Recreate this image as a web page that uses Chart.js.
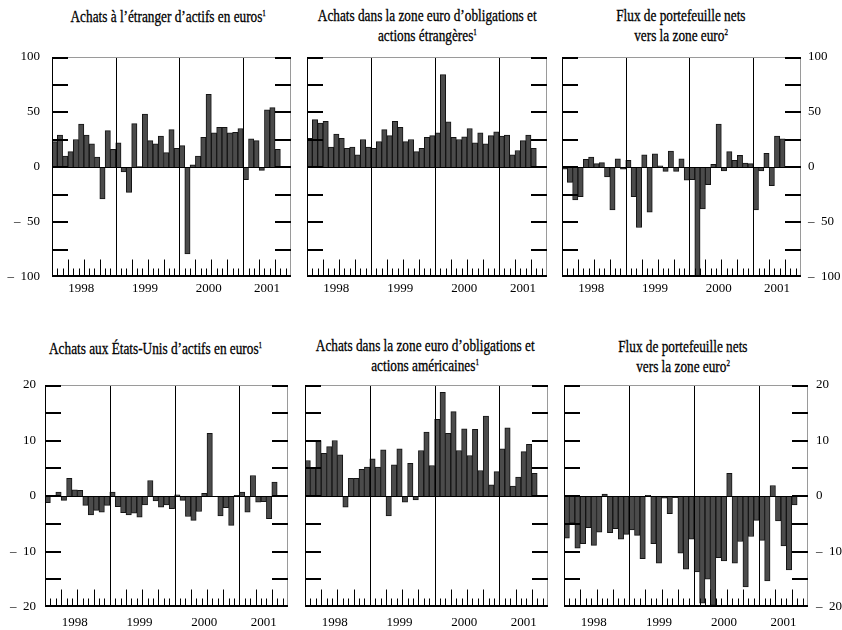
<!DOCTYPE html>
<html>
<head>
<meta charset="utf-8">
<script src="https://cdn.jsdelivr.net/npm/chart.js@4"></script>
<style>
  body { margin: 0; background: #fff; }
  #page { position: relative; width: 842px; height: 630px; overflow: hidden; }
  .box { position: absolute; }
  .title {
    position: absolute; width: 320px; text-align: center;
    font-family: "Liberation Serif", serif; font-size: 17px; line-height: 20px; color: #000;
    -webkit-text-stroke: 0.3px #000;
  }
  .title span { display: inline-block; transform: scaleX(0.78); transform-origin: center; white-space: nowrap; }
  .title sup { font-size: 9px; vertical-align: 6px; line-height: 0; }
</style>
</head>
<body>
<div id="page"></div>
<script>
// Months shown on each panel: Jan 1998 to Sep 2001, data up to Jul 2001
const years = ['1998', '1999', '2000', '2001'];
const monthsPerYear = [12, 12, 12, 9];

// Top row, EUR billions
const achatsEtrangerEuros = [
  23, 29, 10, 14, 25, 39, 29, 21, 9, -29, 33, 16,
  22, -4.5, -23, 39.5, 0.3, 48, 24, 21, 28, 13, 34, 17,
  19.5, -79, 2, 10, 27, 66, 31, 36, 36, 31, 31.5, 35,
  -11.5, 25.5, 24, -3, 52, 54, 16
];
const achatsZoneEuroEtrangeres = [
  26, 43, 40, 41.5, 18, 30, 26, 17, 18, 11, 25, 18,
  17, 23, 34, 28.5, 41.5, 36, 23, 25, 14, 17, 27, 28.5,
  31, 84, 41, 27, 25, 27.5, 35, 22, 31, 21, 28.5, 32,
  28, 29, 11, 15, 24, 29, 17
];
const fluxNetsZoneEuro = [
  -2, -14, -30, -27, 7, 9, 3, 4, -9, -39, 7.5, -2,
  6, -27, -55, 11, -41, 12, 1, -4, 14.5, -4, 7.5, -12,
  -11.5, -100, -38, -16, 2.5, 39, -3.5, 14, 6, 10.5, 3.5, 3,
  -39, -3.5, 12.5, -17, 28, 25.5, 0.5
];

// Bottom row, EUR billions
const achatsEtatsUnisEuros = [
  -1.2, 0, 0.7, -0.8, 3.2, 1.1, 1.0, -1.7, -3.4, -2.6, -2.9, -1.7,
  0.7, -1.9, -3.0, -3.4, -3.1, -3.8, -1.6, 2.8, -0.9, -2.0, -1.6, -2.3,
  0.2, -0.8, -3.7, -4.4, -2.8, 0.5, 11.3, 0, -3.6, -2.1, -5.3, 0.1,
  0.7, -2.9, 3.7, -1.1, -1.0, -4.1, 2.5
];
const achatsZoneEuroAmericaines = [
  6.4, 5.0, 10.0, 7.7, 8.9, 10.0, 7.4, -2.0, 3.2, 3.2, 4.8, 5.2,
  6.7, 5.2, 8.3, -3.6, 5.6, 8.5, -1.1, 5.9, -0.7, 8.2, 11.5, 5.5,
  13.8, 18.7, 11.3, 15.2, 8.2, 12.1, 7.3, 12.0, 4.6, 14.4, 2.0, 4.4,
  8.5, 12.3, 1.8, 3.4, 8.0, 9.3, 4.1
];
const fluxNetsEtatsUnis = [
  -7.6, -4.9, -9.4, -8.6, -5.7, -8.9, -6.5, 0.35, -6.6, -5.9, -7.8, -6.9,
  -6.1, -7.1, -11.3, 0.1, -8.6, -12.1, -0.4, -3.2, -0.3, -10.3, -13.2, -7.8,
  -13.7, -19.3, -15.0, -19.7, -11.1, -11.7, 4.1, -12.1, -8.2, -16.4, -7.3, -4.4,
  -8.0, -15.3, 1.9, -4.5, -9.0, -13.3, -1.6
];

// build month categories and the index that carries each year label
const monthLabels = [];
const yearLabelAt = {};
years.forEach((yr, k) => {
  const start = monthLabels.length;
  for (let m = 1; m <= monthsPerYear[k]; m++) monthLabels.push(yr + '-' + String(m).padStart(2, '0'));
  yearLabelAt[start + Math.floor((monthsPerYear[k] - 1) / 2)] = yr;
});

const page = document.getElementById('page');

// titles (HTML text)
const titles = [
  { x: 168, top: 7,   lines: ['Achats à l’étranger d’actifs en euros<sup>1</sup>'] },
  { x: 427, top: 6,   lines: ['Achats dans la zone euro d’obligations et', 'actions étrangères<sup>1</sup>'] },
  { x: 681, top: 6,   lines: ['Flux de portefeuille nets', 'vers la zone euro<sup>2</sup>'] },
  { x: 156, top: 339, lines: ['Achats aux États-Unis d’actifs en euros<sup>1</sup>'] },
  { x: 425, top: 336, lines: ['Achats dans la zone euro d’obligations et', 'actions américaines<sup>1</sup>'] },
  { x: 683, top: 337, lines: ['Flux de portefeuille nets', 'vers la zone euro<sup>2</sup>'] }
];
titles.forEach(t => {
  const d = document.createElement('div');
  d.className = 'title';
  d.style.left = (t.x - 160) + 'px';
  d.style.top = t.top + 'px';
  d.innerHTML = t.lines.map(l => '<span>' + l + '</span>').join('<br>');
  page.appendChild(d);
});

// frame, zero line, inner ticks and year separators
const framePlugin = {
  id: 'frame',
  afterDatasetsDraw(chart, args, opts) {
    const { ctx, chartArea: a, scales: { x, y } } = chart;
    const L = a.left + 0.5, R = a.right - 0.5, T = a.top + 0.5, B = a.bottom - 0.5;
    ctx.save();
    ctx.lineCap = 'butt';

    // zero line
    ctx.strokeStyle = '#000';
    ctx.lineWidth = 1;
    const y0 = Math.round(y.getPixelForValue(0)) + 0.5;
    ctx.beginPath(); ctx.moveTo(L, y0); ctx.lineTo(R, y0); ctx.stroke();

    // month ticks, quarter ticks, year lines
    const n = chart.data.labels.length;
    for (let i = 1; i < n; i++) {
      const px = Math.round((x.getPixelForValue(i - 1) + x.getPixelForValue(i)) / 2) + 0.5;
      let top;
      if (i % 12 === 0) top = T;
      else if (i % 3 === 0) top = B - 17;
      else top = B - 8;
      ctx.beginPath(); ctx.moveTo(px, B); ctx.lineTo(px, top); ctx.stroke();
    }

    // frame: top and right light, left and bottom dark
    ctx.strokeStyle = '#9a9a9a';
    ctx.beginPath(); ctx.moveTo(L, T); ctx.lineTo(R, T); ctx.lineTo(R, B); ctx.stroke();
    ctx.strokeStyle = '#000';
    ctx.beginPath(); ctx.moveTo(L, T); ctx.lineTo(L, B); ctx.stroke();
    ctx.lineWidth = 2;
    ctx.beginPath(); ctx.moveTo(a.left, a.bottom - 1); ctx.lineTo(a.right, a.bottom - 1); ctx.stroke();

    // inner value ticks on both sides
    ctx.lineWidth = 2;
    for (let v = y.min; v <= y.max + 1e-9; v += opts.minor) {
      const py = Math.round(y.getPixelForValue(v));
      const yy = v === y.max ? py + 1 : (v === y.min ? py - 1 : py);
      ctx.beginPath(); ctx.moveTo(a.left, yy); ctx.lineTo(a.left + 16, yy); ctx.stroke();
      ctx.beginPath(); ctx.moveTo(a.right - 16, yy); ctx.lineTo(a.right, yy); ctx.stroke();
    }
    ctx.restore();
  }
};

// negative labels: en dash, then a double space before the number
const fmt = v => (v < 0 ? '\u2013  ' + Math.abs(v) : String(v));

function makePanel(p) {
  const div = document.createElement('div');
  div.className = 'box';
  div.style.left = p.left + 'px';
  div.style.top = p.top + 'px';
  const cv = document.createElement('canvas');
  cv.width = p.width; cv.height = p.height;
  cv.style.width = p.width + 'px'; cv.style.height = p.height + 'px';
  div.appendChild(cv);
  page.appendChild(div);

  // gaps between labels and plot come from tickLength (hidden grid), not ticks.padding,
  // so the layout does not push the chart area down
  new Chart(cv.getContext('2d'), {
    type: 'bar',
    data: {
      labels: monthLabels,
      datasets: [{
        data: p.values,
        backgroundColor: '#4b4b4b',
        borderColor: '#141414',
        borderWidth: 1,
        barPercentage: 1,
        categoryPercentage: 1
      }]
    },
    options: {
      responsive: false,
      animation: false,
      devicePixelRatio: 1,
      layout: { padding: p.padding },
      plugins: { legend: { display: false }, tooltip: { enabled: false }, frame: { minor: p.minor } },
      scales: {
        x: {
          type: 'category',
          grid: { display: false, drawTicks: true, tickLength: p.xPad, color: 'rgba(0,0,0,0)' },
          border: { display: false },
          afterFit: s => { s.height = p.xHeight; },
          ticks: {
            autoSkip: false, maxRotation: 0, minRotation: 0,
            padding: 0, color: '#000',
            font: { family: 'Liberation Serif', size: 13 },
            callback: (val, idx) => yearLabelAt[idx] || ''
          }
        },
        y: {
          display: p.side !== 'none',
          position: p.side === 'right' ? 'right' : 'left',
          min: p.min, max: p.max,
          grid: { display: false, drawTicks: true, tickLength: p.yPad, color: 'rgba(0,0,0,0)' },
          border: { display: false },
          afterFit: s => { s.width = p.yWidth; },
          ticks: {
            stepSize: p.step, padding: 0, color: '#000',
            font: { family: 'Liberation Serif', size: 13 },
            callback: v => fmt(v)
          }
        }
      }
    },
    plugins: [framePlugin]
  });
}

// top row
makePanel({ left: 0, top: 45, width: 300, height: 260, values: achatsEtrangerEuros,
  min: -100, max: 100, step: 50, minor: 25, side: 'left', yWidth: 52, yPad: 12,
  xHeight: 24, xPad: 4, padding: { left: 0, right: 9, top: 12, bottom: 4 } });
makePanel({ left: 300, top: 45, width: 255, height: 260, values: achatsZoneEuroEtrangeres,
  min: -100, max: 100, step: 50, minor: 25, side: 'none', yWidth: 0, yPad: 0,
  xHeight: 24, xPad: 4, padding: { left: 7, right: 8, top: 12, bottom: 4 } });
makePanel({ left: 555, top: 45, width: 287, height: 260, values: fluxNetsZoneEuro,
  min: -100, max: 100, step: 50, minor: 25, side: 'right', yWidth: 41, yPad: 7,
  xHeight: 24, xPad: 4, padding: { left: 7, right: 0, top: 12, bottom: 4 } });

// bottom row
makePanel({ left: 0, top: 373, width: 300, height: 257, values: achatsEtatsUnisEuros,
  min: -20, max: 20, step: 10, minor: 5, side: 'left', yWidth: 45, yPad: 9,
  xHeight: 22, xPad: 8, padding: { left: 0, right: 12, top: 12, bottom: 1 } });
makePanel({ left: 300, top: 373, width: 255, height: 257, values: achatsZoneEuroAmericaines,
  min: -20, max: 20, step: 10, minor: 5, side: 'none', yWidth: 0, yPad: 0,
  xHeight: 22, xPad: 8, padding: { left: 5, right: 7, top: 12, bottom: 1 } });
makePanel({ left: 555, top: 373, width: 287, height: 257, values: fluxNetsEtatsUnis,
  min: -20, max: 20, step: 10, minor: 5, side: 'right', yWidth: 34, yPad: 8,
  xHeight: 22, xPad: 8, padding: { left: 9, right: 0, top: 12, bottom: 1 } });
</script>
</body>
</html>
